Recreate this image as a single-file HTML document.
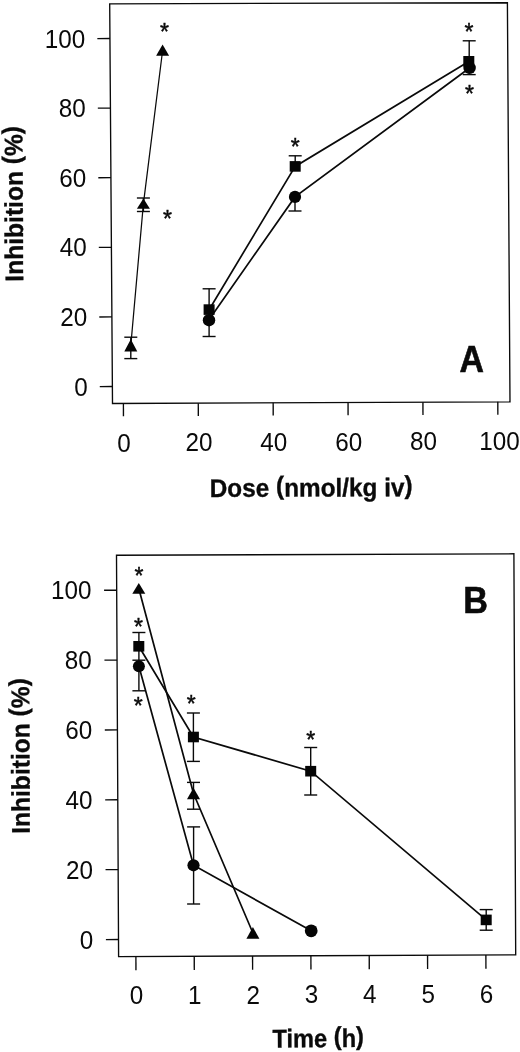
<!DOCTYPE html>
<html lang="en">
<head>
<meta charset="utf-8">
<title>Inhibition vs dose and time</title>
<style>
html,body{margin:0;padding:0;background:#fff;}
body{width:520px;height:1052px;overflow:hidden;}
svg{display:block;filter:grayscale(1);}
svg line,svg polyline,svg polygon{stroke:#0a0a0a;stroke-linecap:butt;}
svg .m{fill:#050505;stroke:none;}
svg text{font-family:"Liberation Sans",Arial,Helvetica,sans-serif;fill:#0a0a0a;}
svg .tk{font-size:25.4px;}
svg .lab{font-size:25.6px;font-weight:bold;stroke:#0a0a0a;stroke-width:0.35px;}
svg .big{font-size:36.4px;font-weight:bold;stroke:#0a0a0a;stroke-width:0.6px;}
svg .ast{font-size:23.0px;text-anchor:middle;stroke:#0a0a0a;stroke-width:0.45px;}
</style>
</head>
<body>
<svg width="520" height="1052" viewBox="0 0 520 1052">
<rect x="0" y="0" width="520" height="1052" fill="#ffffff"/>
<g id="panelA">
<polygon fill="none" stroke-width="1.35" points="109.7,3.8 507.4,2.8 510.0,401.8 112.5,403.5"/>
<line x1="99.78" y1="386.55" x2="112.38" y2="386.50" stroke-width="1.35"/>
<text class="tk" text-anchor="end" transform="translate(87.68 395.60) scale(0.955 1)">0</text>
<line x1="99.29" y1="316.95" x2="111.89" y2="316.90" stroke-width="1.35"/>
<text class="tk" text-anchor="end" transform="translate(87.19 326.00) scale(0.955 1)">20</text>
<line x1="98.81" y1="247.35" x2="111.41" y2="247.30" stroke-width="1.35"/>
<text class="tk" text-anchor="end" transform="translate(86.71 256.40) scale(0.955 1)">40</text>
<line x1="98.32" y1="177.75" x2="110.92" y2="177.70" stroke-width="1.35"/>
<text class="tk" text-anchor="end" transform="translate(86.22 186.80) scale(0.955 1)">60</text>
<line x1="97.83" y1="108.15" x2="110.43" y2="108.10" stroke-width="1.35"/>
<text class="tk" text-anchor="end" transform="translate(85.73 117.20) scale(0.955 1)">80</text>
<line x1="97.34" y1="38.55" x2="109.94" y2="38.50" stroke-width="1.35"/>
<text class="tk" text-anchor="end" transform="translate(85.24 47.60) scale(0.955 1)">100</text>
<line x1="123.40" y1="403.45" x2="123.45" y2="416.25" stroke-width="1.35"/>
<text class="tk" text-anchor="middle" transform="translate(124.00 451.75) scale(0.955 1)">0</text>
<line x1="198.28" y1="403.13" x2="198.33" y2="415.93" stroke-width="1.35"/>
<text class="tk" text-anchor="middle" transform="translate(198.88 451.43) scale(0.955 1)">20</text>
<line x1="273.16" y1="402.81" x2="273.21" y2="415.61" stroke-width="1.35"/>
<text class="tk" text-anchor="middle" transform="translate(273.76 451.11) scale(0.955 1)">40</text>
<line x1="348.04" y1="402.49" x2="348.09" y2="415.29" stroke-width="1.35"/>
<text class="tk" text-anchor="middle" transform="translate(348.64 450.79) scale(0.955 1)">60</text>
<line x1="422.92" y1="402.17" x2="422.97" y2="414.97" stroke-width="1.35"/>
<text class="tk" text-anchor="middle" transform="translate(423.52 450.47) scale(0.955 1)">80</text>
<line x1="497.80" y1="401.85" x2="497.85" y2="414.65" stroke-width="1.35"/>
<text class="tk" text-anchor="middle" transform="translate(499.40 450.15) scale(0.955 1)">100</text>
<polyline points="130.80,345.50 143.40,203.80 162.60,50.50" fill="none" stroke-width="1.25"/>
<line x1="130.80" y1="337.20" x2="130.80" y2="358.60" stroke-width="1.4"/>
<line x1="124.30" y1="337.20" x2="137.30" y2="337.20" stroke-width="1.4"/>
<line x1="124.30" y1="358.60" x2="137.30" y2="358.60" stroke-width="1.4"/>
<line x1="143.40" y1="198.00" x2="143.40" y2="211.50" stroke-width="1.4"/>
<line x1="136.90" y1="198.00" x2="149.90" y2="198.00" stroke-width="1.4"/>
<line x1="136.90" y1="211.50" x2="149.90" y2="211.50" stroke-width="1.4"/>
<polygon class="m" points="130.80,339.20 137.30,351.50 124.30,351.50"/>
<polygon class="m" points="143.40,198.50 149.90,208.80 136.90,208.80"/>
<polygon class="m" points="162.60,44.60 169.10,55.70 156.10,55.70"/>
<polyline points="209.10,309.70 295.20,166.40 468.80,61.50" fill="none" stroke-width="1.7"/>
<polyline points="209.00,319.70 295.00,196.90 469.50,68.00" fill="none" stroke-width="1.7"/>
<line x1="209.10" y1="288.80" x2="209.10" y2="336.50" stroke-width="1.4"/>
<line x1="202.60" y1="288.80" x2="215.60" y2="288.80" stroke-width="1.4"/>
<line x1="202.60" y1="336.50" x2="215.60" y2="336.50" stroke-width="1.4"/>
<line x1="295.20" y1="155.80" x2="295.20" y2="166.00" stroke-width="1.4"/>
<line x1="288.70" y1="155.80" x2="301.70" y2="155.80" stroke-width="1.4"/>
<line x1="295.00" y1="197.00" x2="295.00" y2="211.00" stroke-width="1.4"/>
<line x1="288.50" y1="211.00" x2="301.50" y2="211.00" stroke-width="1.4"/>
<line x1="469.20" y1="40.80" x2="469.20" y2="74.60" stroke-width="1.4"/>
<line x1="462.70" y1="40.80" x2="475.70" y2="40.80" stroke-width="1.4"/>
<line x1="462.70" y1="74.60" x2="475.70" y2="74.60" stroke-width="1.4"/>
<circle class="m" cx="209.00" cy="320.20" r="6.2"/>
<rect class="m" x="203.60" y="304.30" width="11.0" height="10.6"/>
<circle class="m" cx="295.00" cy="196.90" r="6.1"/>
<rect class="m" x="289.70" y="161.10" width="11.0" height="10.6"/>
<circle class="m" cx="469.60" cy="67.90" r="6.2"/>
<rect class="m" x="463.30" y="56.00" width="11.0" height="10.6"/>
<text class="ast" x="164.60" y="40.00">*</text>
<text class="ast" x="167.40" y="226.50">*</text>
<text class="ast" x="295.30" y="154.90">*</text>
<text class="ast" x="468.90" y="40.10">*</text>
<text class="ast" x="469.40" y="101.50">*</text>
<text class="big" text-anchor="middle" transform="translate(471.6 372.3) scale(0.93 1)">A</text>
<text class="lab" text-anchor="middle" transform="translate(22.8 203.8) rotate(-90.25) scale(0.961 1)">Inhibition <tspan dy="-2.4">(</tspan><tspan dy="2.4">%</tspan><tspan dy="-2.4">)</tspan></text>
<text class="lab" text-anchor="middle" transform="translate(311.2 496.5) rotate(-0.25) scale(0.951 1)">Dose <tspan dy="-2.4">(</tspan><tspan dy="2.4">nmol/kg iv</tspan><tspan dy="-2.4">)</tspan></text>
</g>
<g id="panelB">
<polygon fill="none" stroke-width="1.35" points="116.5,555.2 513.9,553.8 515.7,954.9 118.6,956.6"/>
<line x1="105.91" y1="939.55" x2="118.51" y2="939.50" stroke-width="1.35"/>
<text class="tk" text-anchor="end" transform="translate(93.31 948.60) scale(0.955 1)">0</text>
<line x1="105.55" y1="869.69" x2="118.15" y2="869.64" stroke-width="1.35"/>
<text class="tk" text-anchor="end" transform="translate(92.95 878.74) scale(0.955 1)">20</text>
<line x1="105.18" y1="799.83" x2="117.78" y2="799.78" stroke-width="1.35"/>
<text class="tk" text-anchor="end" transform="translate(92.58 808.88) scale(0.955 1)">40</text>
<line x1="104.81" y1="729.97" x2="117.41" y2="729.92" stroke-width="1.35"/>
<text class="tk" text-anchor="end" transform="translate(92.21 739.02) scale(0.955 1)">60</text>
<line x1="104.45" y1="660.11" x2="117.05" y2="660.06" stroke-width="1.35"/>
<text class="tk" text-anchor="end" transform="translate(91.85 669.16) scale(0.955 1)">80</text>
<line x1="104.08" y1="590.25" x2="116.68" y2="590.20" stroke-width="1.35"/>
<text class="tk" text-anchor="end" transform="translate(91.48 599.30) scale(0.955 1)">100</text>
<line x1="135.90" y1="956.53" x2="135.95" y2="970.13" stroke-width="1.35"/>
<text class="tk" text-anchor="middle" transform="translate(136.50 1004.13) scale(0.955 1)">0</text>
<line x1="194.23" y1="956.28" x2="194.28" y2="969.88" stroke-width="1.35"/>
<text class="tk" text-anchor="middle" transform="translate(194.83 1003.88) scale(0.955 1)">1</text>
<line x1="252.56" y1="956.03" x2="252.61" y2="969.63" stroke-width="1.35"/>
<text class="tk" text-anchor="middle" transform="translate(253.16 1003.63) scale(0.955 1)">2</text>
<line x1="310.89" y1="955.78" x2="310.94" y2="969.38" stroke-width="1.35"/>
<text class="tk" text-anchor="middle" transform="translate(311.49 1003.38) scale(0.955 1)">3</text>
<line x1="369.22" y1="955.53" x2="369.27" y2="969.13" stroke-width="1.35"/>
<text class="tk" text-anchor="middle" transform="translate(369.82 1003.13) scale(0.955 1)">4</text>
<line x1="427.55" y1="955.28" x2="427.60" y2="968.88" stroke-width="1.35"/>
<text class="tk" text-anchor="middle" transform="translate(428.15 1002.88) scale(0.955 1)">5</text>
<line x1="485.88" y1="955.03" x2="485.93" y2="968.63" stroke-width="1.35"/>
<text class="tk" text-anchor="middle" transform="translate(486.48 1002.63) scale(0.955 1)">6</text>
<polyline points="138.80,588.50 193.50,793.50 252.90,933.00" fill="none" stroke-width="1.7"/>
<line x1="193.50" y1="782.40" x2="193.50" y2="809.20" stroke-width="1.4"/>
<line x1="187.00" y1="782.40" x2="200.00" y2="782.40" stroke-width="1.4"/>
<line x1="187.00" y1="809.20" x2="200.00" y2="809.20" stroke-width="1.4"/>
<polyline points="138.80,646.30 193.40,737.00 310.70,771.20 486.20,919.90" fill="none" stroke-width="1.7"/>
<line x1="138.90" y1="632.50" x2="138.90" y2="660.20" stroke-width="1.4"/>
<line x1="132.40" y1="632.50" x2="145.40" y2="632.50" stroke-width="1.4"/>
<line x1="132.40" y1="660.20" x2="145.40" y2="660.20" stroke-width="1.4"/>
<line x1="193.40" y1="713.00" x2="193.40" y2="761.40" stroke-width="1.4"/>
<line x1="186.90" y1="713.00" x2="199.90" y2="713.00" stroke-width="1.4"/>
<line x1="186.90" y1="761.40" x2="199.90" y2="761.40" stroke-width="1.4"/>
<line x1="310.70" y1="747.50" x2="310.70" y2="795.00" stroke-width="1.4"/>
<line x1="304.20" y1="747.50" x2="317.20" y2="747.50" stroke-width="1.4"/>
<line x1="304.20" y1="795.00" x2="317.20" y2="795.00" stroke-width="1.4"/>
<line x1="486.20" y1="909.60" x2="486.20" y2="930.20" stroke-width="1.4"/>
<line x1="479.70" y1="909.60" x2="492.70" y2="909.60" stroke-width="1.4"/>
<line x1="479.70" y1="930.20" x2="492.70" y2="930.20" stroke-width="1.4"/>
<polyline points="138.90,666.20 193.50,865.30 311.20,930.80" fill="none" stroke-width="1.7"/>
<line x1="138.90" y1="660.00" x2="138.90" y2="690.80" stroke-width="1.4"/>
<line x1="132.40" y1="690.80" x2="145.40" y2="690.80" stroke-width="1.4"/>
<line x1="193.60" y1="826.90" x2="193.60" y2="904.00" stroke-width="1.4"/>
<line x1="187.10" y1="826.90" x2="200.10" y2="826.90" stroke-width="1.4"/>
<line x1="187.10" y1="904.00" x2="200.10" y2="904.00" stroke-width="1.4"/>
<polygon class="m" points="138.80,582.90 145.30,593.70 132.30,593.70"/>
<polygon class="m" points="193.50,787.70 200.00,799.20 187.00,799.20"/>
<polygon class="m" points="252.90,927.10 259.40,938.70 246.40,938.70"/>
<rect class="m" x="133.30" y="641.00" width="11.0" height="10.6"/>
<rect class="m" x="187.90" y="731.70" width="11.0" height="10.6"/>
<rect class="m" x="305.20" y="765.90" width="11.0" height="10.6"/>
<rect class="m" x="480.70" y="914.60" width="11.0" height="10.6"/>
<circle class="m" cx="138.90" cy="666.30" r="6.0"/>
<circle class="m" cx="193.50" cy="865.30" r="6.1"/>
<circle class="m" cx="311.20" cy="930.80" r="6.4"/>
<text class="ast" x="139.00" y="584.00">*</text>
<text class="ast" x="138.60" y="635.30">*</text>
<text class="ast" x="138.20" y="713.50">*</text>
<text class="ast" x="191.20" y="711.90">*</text>
<text class="ast" x="310.80" y="747.70">*</text>
<text class="big" text-anchor="middle" transform="translate(475.6 612.6) scale(0.94 1)">B</text>
<text class="lab" text-anchor="middle" transform="translate(29.5 756.0) rotate(-90.25) scale(0.961 1)">Inhibition <tspan dy="-2.4">(</tspan><tspan dy="2.4">%</tspan><tspan dy="-2.4">)</tspan></text>
<text class="lab" text-anchor="middle" transform="translate(318.2 1047.2) rotate(-0.25) scale(0.925 1)">Time <tspan dy="-2.4">(</tspan><tspan dy="2.4">h</tspan><tspan dy="-2.4">)</tspan></text>
</g>
</svg>
</body>
</html>
